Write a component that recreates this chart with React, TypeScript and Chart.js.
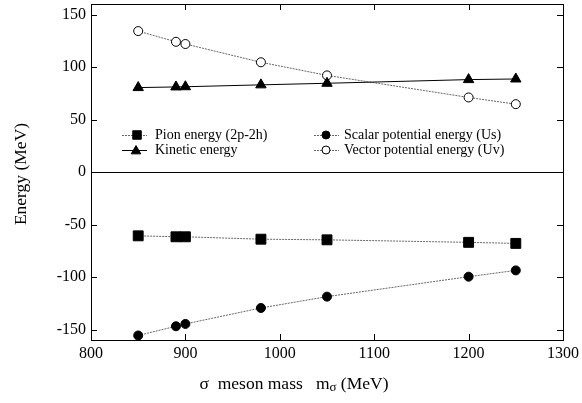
import React, { useEffect, useRef } from "react";
import { Chart, registerables } from "chart.js";

Chart.register(...registerables);

const massValues = [850, 890, 900, 980, 1050, 1200, 1250];
const pionEnergy = [-60.8, -61.7, -61.7, -64, -64.6, -67, -68];
const kineticEnergy = [80.4, 81, 81.2, 83, 84.5, 88, 88.6];
const scalarEnergy = [-155.7, -146.9, -144.7, -129.5, -118.7, -99.7, -93.7];
const vectorEnergy = [134.2, 124, 121.9, 104.5, 92, 71, 64.6];
const xTicks = [800, 900, 1000, 1100, 1200, 1300];
const yTicks = [-150, -100, -50, 0, 50, 100, 150];
const legendLabels = [
  "Pion energy (2p-2h)",
  "Kinetic energy",
  "Scalar potential energy (Us)",
  "Vector potential energy (Uv)",
];

const FONT = "'Liberation Serif', 'Times New Roman', serif";
const GRAY = "#666";

function drawMarker(ctx: CanvasRenderingContext2D, style: string, x: number, y: number, r: number, fill: string) {
  ctx.save();
  ctx.setLineDash([]);
  ctx.lineWidth = 1;
  ctx.strokeStyle = "#000";
  ctx.fillStyle = fill;
  ctx.beginPath();
  if (style === "rect") {
    const s = Math.SQRT1_2 * r;
    ctx.rect(x - s, y - s, 2 * s, 2 * s);
  } else if (style === "triangle") {
    for (let i = 0; i < 3; i++) {
      const a = (i * 2 * Math.PI) / 3;
      const px = x + Math.sin(a) * r;
      const py = y - Math.cos(a) * r + r * 0.2;
      if (i === 0) ctx.moveTo(px, py);
      else ctx.lineTo(px, py);
    }
    ctx.closePath();
  } else {
    ctx.arc(x, y, r, 0, Math.PI * 2);
  }
  ctx.fill();
  ctx.stroke();
  ctx.restore();
}

const framePlugin = {
  id: "framePlugin",
  afterDatasetsDraw(chart: any) {
    const { ctx, chartArea } = chart;
    const { left, right, top, bottom } = chartArea;
    const xs = chart.scales.x;
    const ys = chart.scales.y;
    ctx.save();
    ctx.strokeStyle = "#000";
    ctx.lineWidth = 1;
    ctx.setLineDash([]);
    // frame
    ctx.strokeRect(Math.round(left) + 0.5, Math.round(top) + 0.5, Math.round(right - left), Math.round(bottom - top));
    // zero line
    const y0 = Math.round(ys.getPixelForValue(0)) + 0.5;
    ctx.beginPath();
    ctx.moveTo(left, y0);
    ctx.lineTo(right, y0);
    ctx.stroke();
    // inward ticks
    const tl = 6;
    ctx.beginPath();
    for (const v of xTicks) {
      const px = Math.round(xs.getPixelForValue(v)) + 0.5;
      ctx.moveTo(px, bottom);
      ctx.lineTo(px, bottom - tl);
      ctx.moveTo(px, top);
      ctx.lineTo(px, top + tl);
    }
    for (const v of yTicks) {
      const py = Math.round(ys.getPixelForValue(v)) + 0.5;
      ctx.moveTo(left, py);
      ctx.lineTo(left + tl, py);
      ctx.moveTo(right, py);
      ctx.lineTo(right - tl, py);
    }
    ctx.stroke();

    // legend
    const styles = [
      { style: "rect", r: 6, fill: "#000", dash: [2, 1], color: GRAY },
      { style: "triangle", r: 5.5, fill: "#000", dash: [], color: "#000" },
      { style: "circle", r: 4, fill: "#000", dash: [2, 1], color: GRAY },
      { style: "circle", r: 4, fill: "#fff", dash: [2, 1], color: GRAY },
    ];
    const positions = [
      { x1: 122, x2: 147, mx: 137, tx: 155, y: 135 },
      { x1: 122, x2: 147, mx: 136, tx: 155, y: 150 },
      { x1: 314, x2: 339, mx: 326, tx: 344, y: 135 },
      { x1: 314, x2: 339, mx: 326, tx: 344, y: 150 },
    ];
    ctx.font = `14px ${FONT}`;
    ctx.textBaseline = "middle";
    ctx.textAlign = "left";
    for (let i = 0; i < 4; i++) {
      const p = positions[i];
      const s = styles[i];
      ctx.save();
      ctx.strokeStyle = s.color;
      ctx.setLineDash(s.dash);
      ctx.beginPath();
      ctx.moveTo(p.x1, p.y + 0.5);
      ctx.lineTo(p.x2, p.y + 0.5);
      ctx.stroke();
      ctx.restore();
      drawMarker(ctx, s.style, p.mx, p.y, s.r, s.fill);
      ctx.fillStyle = "#000";
      ctx.fillText(legendLabels[i], p.tx, p.y);
    }

    // y axis title
    ctx.fillStyle = "#000";
    ctx.font = `17.5px ${FONT}`;
    ctx.save();
    ctx.translate(21, (top + bottom) / 2 + 2);
    ctx.rotate(-Math.PI / 2);
    ctx.textAlign = "center";
    ctx.textBaseline = "middle";
    ctx.fillText("Energy (MeV)", 0, 0);
    ctx.restore();

    // x title with subscript
    const parts1 = "σ  meson mass   m";
    const sub = "σ";
    const parts2 = " (MeV)";
    ctx.font = `17.5px ${FONT}`;
    const w1 = ctx.measureText(parts1).width;
    const w3 = ctx.measureText(parts2).width;
    ctx.font = `13px ${FONT}`;
    const w2 = ctx.measureText(sub).width;
    const total = w1 + w2 + w3;
    const cx = 294;
    let x = cx - total / 2;
    const ty = 384;
    ctx.textAlign = "left";
    ctx.textBaseline = "middle";
    ctx.font = `17.5px ${FONT}`;
    ctx.fillText(parts1, x, ty);
    x += w1;
    ctx.font = `13px ${FONT}`;
    ctx.fillText(sub, x, ty + 4);
    x += w2;
    ctx.font = `17.5px ${FONT}`;
    ctx.fillText(parts2, x, ty);
    ctx.restore();
  },
};

export default function App() {
  const canvasRef = useRef<HTMLCanvasElement | null>(null);

  useEffect(() => {
    if (!canvasRef.current) return;
    const mk = (vals: number[]) => massValues.map((x, i) => ({ x, y: vals[i] }));
    const chart = new Chart(canvasRef.current, {
      type: "scatter",
      data: {
        datasets: [
          {
            label: legendLabels[0],
            data: mk(pionEnergy),
            showLine: true,
            borderColor: GRAY,
            borderWidth: 1,
            borderDash: [2, 1],
            pointStyle: "rect",
            pointRadius: 7,
            pointBackgroundColor: "#000",
            pointBorderColor: "#000",
            pointBorderWidth: 1,
          },
          {
            label: legendLabels[1],
            data: mk(kineticEnergy),
            showLine: true,
            borderColor: "#000",
            borderWidth: 1,
            pointStyle: "triangle",
            pointRadius: 6,
            pointBackgroundColor: "#000",
            pointBorderColor: "#000",
            pointBorderWidth: 1,
          },
          {
            label: legendLabels[2],
            data: mk(scalarEnergy),
            showLine: true,
            borderColor: GRAY,
            borderWidth: 1,
            borderDash: [2, 1],
            pointStyle: "circle",
            pointRadius: 4.5,
            pointBackgroundColor: "#000",
            pointBorderColor: "#000",
            pointBorderWidth: 1,
          },
          {
            label: legendLabels[3],
            data: mk(vectorEnergy),
            showLine: true,
            borderColor: GRAY,
            borderWidth: 1,
            borderDash: [2, 1],
            pointStyle: "circle",
            pointRadius: 4.5,
            pointBackgroundColor: "#fff",
            pointBorderColor: "#000",
            pointBorderWidth: 1,
          },
        ],
      },
      options: {
        animation: false,
        responsive: false,
        maintainAspectRatio: false,
        layout: { autoPadding: false, padding: { left: 0, top: 4, right: 19, bottom: 0 } },
        plugins: { legend: { display: false }, tooltip: { enabled: false } },
        scales: {
          x: {
            type: "linear",
            min: 800,
            max: 1300,
            grid: { display: false, drawTicks: false },
            border: { display: false },
            ticks: {
              color: "#000",
              font: { family: FONT, size: 16 },
              padding: 4,
              maxRotation: 0,
              callback: (v: any) => String(v),
            },
            afterBuildTicks: (s: any) => {
              s.ticks = xTicks.map((v) => ({ value: v }));
            },
            afterFit: (s: any) => {
              s.height = 63;
              s.paddingLeft = 0;
              s.paddingRight = 0;
            },
          },
          y: {
            type: "linear",
            min: -160,
            max: 160,
            grid: { display: false, drawTicks: false },
            border: { display: false },
            ticks: {
              color: "#000",
              font: { family: FONT, size: 16 },
              padding: 5,
              callback: (v: any) => String(v),
            },
            afterBuildTicks: (s: any) => {
              s.ticks = yTicks.map((v) => ({ value: v }));
            },
            afterFit: (s: any) => {
              s.width = 91;
              s.paddingTop = 0;
              s.paddingBottom = 0;
            },
          },
        },
      },
      plugins: [framePlugin],
    } as any);
    return () => chart.destroy();
  }, []);

  return (
    <div style={{ position: "fixed", left: 0, top: 0, width: 582, height: 403, background: "#fff" }}>
      <canvas ref={canvasRef} width={582} height={403} style={{ width: 582, height: 403, display: "block" }} />
    </div>
  );
}
